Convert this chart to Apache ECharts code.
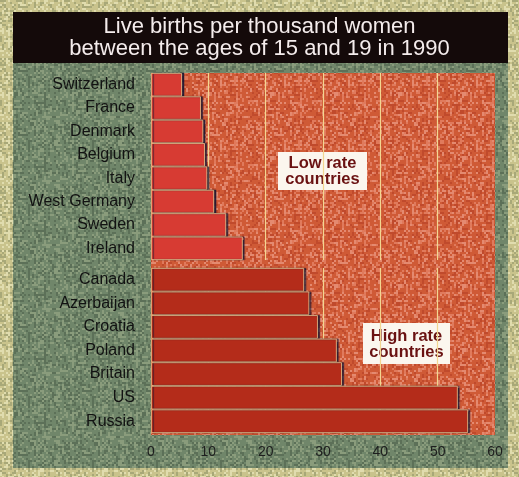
<!DOCTYPE html>
<html><head><meta charset="utf-8">
<script src="https://cdn.jsdelivr.net/npm/echarts@6/dist/echarts.min.js"></script>
<style>html,body{margin:0;padding:0;background:#c9c38c}#c{width:519px;height:477px}</style>
</head><body><div id="c"></div>
<script>
const lowCountries = ['Switzerland','France','Denmark','Belgium','Italy','West Germany','Sweden','Ireland'];
const lowValues = [5.4, 8.7, 9.1, 9.4, 9.8, 11.0, 13.1, 16.0];
const highCountries = ['Canada','Azerbaijan','Croatia','Poland','Britain','US','Russia'];
const highValues = [26.7, 27.6, 29.1, 32.4, 33.3, 53.5, 55.3];
const xTicks = [0, 10, 20, 30, 40, 50, 60];
const titleLines = ['Live births per thousand women', 'between the ages of 15 and 19 in 1990'];

// deterministic print-like texture for backgrounds (not data)
function hash(x, y){
  let n = Math.imul(x, 374761393) + Math.imul(y, 668265263);
  n = Math.imul(n ^ (n >>> 13), 1274126177);
  n ^= n >>> 16;
  return (n >>> 0) / 4294967296;
}
function texture(base, spots, size, step){
  const c = document.createElement('canvas'); c.width = c.height = size;
  const g = c.getContext('2d'); g.fillStyle = base; g.fillRect(0,0,size,size);
  for (let y=0; y<size; y+=step) for (let x=0; x<size; x+=step){
    const k = Math.floor(hash(x, y)*spots.length*2);
    if (k < spots.length){ g.fillStyle = spots[k]; g.fillRect(x,y,step,step); }
  }
  return {image:c, repeat:'repeat'};
}

const chart = echarts.init(document.getElementById('c'));
const FONT = 'Liberation Sans, Arial, sans-serif';
const L = 151, R = 24;
const labelStyle = {color:'#121212', fontSize:16, fontFamily:FONT, margin:16};
function xAx(idx, show){
  return {type:'value', gridIndex:idx, min:xTicks[0], max:xTicks[xTicks.length-1], interval:10,
    axisLine:{show:false}, axisTick:{show:false},
    axisLabel:{show:show, color:'#1e1e1e', fontSize:14, fontFamily:FONT, margin:12},
    splitLine:{show:true, showMinLine:false, showMaxLine:false, lineStyle:{color:'#f3d690', width:1.2, opacity:1}}};
}
function yAx(idx, cats){
  return {type:'category', gridIndex:idx, data:cats, inverse:true,
    axisLine:{show:false}, axisTick:{show:false}, axisLabel:labelStyle};
}
function barSeries(idx, vals, color){
  return {type:'bar', xAxisIndex:idx, yAxisIndex:idx, data:vals, barCategoryGap:'0%',
    itemStyle:{color:color, borderColor:'#f0c48a', borderWidth:0.8,
      shadowColor:'rgba(20,20,50,0.8)', shadowOffsetX:2, shadowBlur:1}, silent:true};
}
chart.setOption({
  backgroundColor: texture('#c9c38c', ['#a8a878','#e0dcae'], 64, 2),
  animation:false,
  graphic:[
    {type:'rect', z:-10, shape:{x:13,y:63,width:495,height:405}, style:{fill: texture('#70866a', ['#5c7058','#8a9c7c'], 64, 2)}},
    {type:'rect', z:-10, shape:{x:13,y:12,width:495,height:51}, style:{fill:'#140a0a'}},
    {type:'rect', z:-9, shape:{x:151,y:73,width:344,height:362}, style:{fill: texture('#cf5a36', ['#e48a70','#e07a5c','#c04a2c'], 64, 2)}},
    {type:'text', z:10, left:'center', top:16, style:{text:titleLines.join('\n'), fill:'#f4ecec',
      font:'22px '+FONT, textAlign:'center', lineHeight:22}},
    {type:'group', z:10, left:278, top:152, children:[
      {type:'rect', shape:{x:0,y:0,width:89,height:38}, style:{fill:'#fbf6ee'}},
      {type:'text', style:{x:44.5, y:4, text:'Low rate\ncountries', fill:'#6a1212', font:'bold 16.5px '+FONT, textAlign:'center', lineHeight:15.5}}
    ]},
    {type:'group', z:10, left:363, top:323, children:[
      {type:'rect', shape:{x:0,y:0,width:87,height:41}, style:{fill:'#fbf6ee'}},
      {type:'text', style:{x:43.5, y:5, text:'High rate\ncountries', fill:'#6a1212', font:'bold 16.5px '+FONT, textAlign:'center', lineHeight:16}}
    ]}
  ],
  grid:[
    {left:L, right:R, top:73, height:187, containLabel:false},
    {left:L, right:R, top:268, height:165, containLabel:false}
  ],
  xAxis:[xAx(0,false), xAx(1,true)],
  yAxis:[yAx(0, lowCountries), yAx(1, highCountries)],
  series:[barSeries(0, lowValues, '#d73b33'), barSeries(1, highValues, '#b42c1a')]
});
</script></body></html>
